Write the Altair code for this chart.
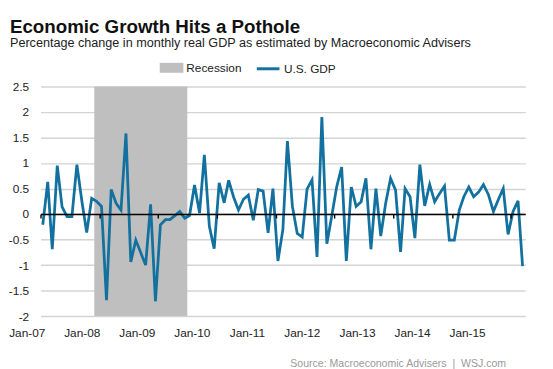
import altair as alt
import pandas as pd

# ---- data ----
gdp = [
    -0.21, 0.63, -0.69, 0.95, 0.14, -0.05, -0.05, 0.97, 0.25, -0.36, 0.31, 0.25,
    0.15, -1.69, 0.48, 0.21, 0.08, 1.58, -0.94, -0.51, -0.76, -1.00, 0.19, -1.71,
    -0.21, -0.11, -0.11, -0.03, 0.05, -0.08, -0.03, 0.57, 0.02, 1.16, -0.24, -0.68,
    0.61, 0.22, 0.66, 0.33, 0.08, 0.29, 0.37, -0.12, 0.48, 0.45, -0.37, 0.50,
    -0.92, -0.30, 1.43, 0.15, -0.38, -0.45, 0.49, 0.67, -0.84, 1.90, -0.58, -0.05,
    0.53, 0.92, -0.92, 0.53, 0.15, 0.24, 0.70, -0.69, 0.50, -0.43, 0.22, 0.70,
    0.47, -0.74, 0.50, 0.34, -0.47, 0.97, 0.16, 0.58, 0.24, 0.40, 0.55, -0.51,
    -0.51, 0.08, 0.34, 0.53, 0.34, 0.43, 0.58, 0.38, 0.05, 0.28, 0.50, -0.40,
    0.05, 0.26, -1.02,
]
first_month = "2007-01-01"
recession_start = ["2007-12-01"]
recession_end = ["2009-07-01"]
recession_label = ["Recession"]
series_label = "U.S. GDP"
year_ticks = list(range(2007, 2016))
y_ticks = [-2, -1.5, -1, -0.5, 0, 0.5, 1, 1.5, 2, 2.5]

# ---- tables ----
dates = pd.date_range(first_month, periods=len(gdp), freq="MS").strftime("%Y-%m-15")
line_df = pd.DataFrame({"date": list(dates), "gdp": gdp, "series": series_label})
rec_df = pd.DataFrame({"start": recession_start, "end": recession_end, "series": recession_label})

W, H = 492, 233
Y_MIN, Y_MAX = -2, 2.5
zero_px = H * (0 - Y_MIN) / (Y_MAX - Y_MIN)
FONT = "Liberation Sans"
NB = "\u00a0"

x_scale = alt.Scale(
    type="utc",
    domain=[alt.DateTime(year=2007, month=1, date=1, utc=True),
            alt.DateTime(year=2015, month=4, date=1, utc=True)],
)
x_axis = alt.Axis(
    values=[alt.DateTime(year=y, month=1, date=1, utc=True) for y in year_ticks],
    format="%b-%y",
    offset=-zero_px,
    domainColor="#000000",
    domainWidth=1.6,
    tickColor="#000000",
    tickSize=4,
    tickWidth=1.4,
    labelPadding=zero_px + 8,
    labelOffset={"expr": "-14 - 3.8 * (utcyear(datum.value) - 2007)"},
    labelFont=FONT,
    labelFontSize=12,
    labelColor="#222222",
    labelOverlap=False,
    labelFlush=False,
    grid=False,
    title=f"Source: Macroeconomic Advisers{NB}{NB}|{NB}{NB}WSJ.com",
    titleAnchor="end",
    titleAlign="right",
    titleX=W - 20,
    titleFont=FONT,
    titleFontSize=10.7,
    titleFontWeight="normal",
    titleColor="#9a9a9a",
    titlePadding=20,
    zindex=1,
)

rect = alt.Chart(rec_df).mark_rect(color="#bfbfbf").encode(
    x=alt.X("start:T", scale=x_scale, axis=x_axis),
    x2="end:T",
    fill=alt.Fill(
        "series:N",
        scale=alt.Scale(domain=recession_label, range=["#bfbfbf"]),
        legend=alt.Legend(
            orient="none", legendX=121, legendY=-31, title=None,
            symbolType="M-1,-0.42H1V0.42H-1Z", symbolSize=576, symbolStrokeWidth=0,
            labelFont=FONT, labelFontSize=12, labelColor="#222222", labelOffset=3,
        ),
    ),
)

line = alt.Chart(line_df).mark_line(strokeWidth=2.8).encode(
    x=alt.X("date:T", scale=x_scale, axis=x_axis),
    y=alt.Y(
        "gdp:Q",
        scale=alt.Scale(domain=[Y_MIN, Y_MAX], nice=False, zero=False),
        axis=alt.Axis(
            values=y_ticks, labelExpr="'' + datum.value", domain=False, ticks=False,
            gridColor="#d4d4d4", gridWidth=1.5, labelPadding=12, labelFont=FONT,
            labelFontSize=12, labelColor="#222222", title=None,
        ),
    ),
    stroke=alt.Stroke(
        "series:N",
        scale=alt.Scale(domain=[series_label], range=["#12719e"]),
        legend=alt.Legend(
            orient="none", legendX=218, legendY=-31, title=None,
            symbolType="stroke", symbolSize=529, symbolStrokeWidth=3,
            labelFont=FONT, labelFontSize=12, labelColor="#222222", labelOffset=3,
        ),
    ),
)

chart = alt.layer(rect, line).resolve_scale(fill="independent", stroke="independent").properties(
    width=W,
    height=H,
    autosize=alt.AutoSizeParams(type="none"),
    padding={"left": 33, "top": 77, "right": 20, "bottom": 51},
    title=alt.TitleParams(
        text="Economic Growth Hits a Pothole",
        subtitle="Percentage change in monthly real GDP as estimated by Macroeconomic Advisers",
        anchor="start",
        frame="group",
        dx=-31,
        dy=1.5,
        font=FONT,
        fontSize=19,
        fontWeight="bold",
        color="#111111",
        subtitleFont=FONT,
        subtitleFontSize=12.8,
        subtitleColor="#222222",
        subtitlePadding=0,
        offset=8,
    ),
).configure_view(stroke=None)

chart.save("out.html", embed_options={"renderer": "svg", "actions": False})
